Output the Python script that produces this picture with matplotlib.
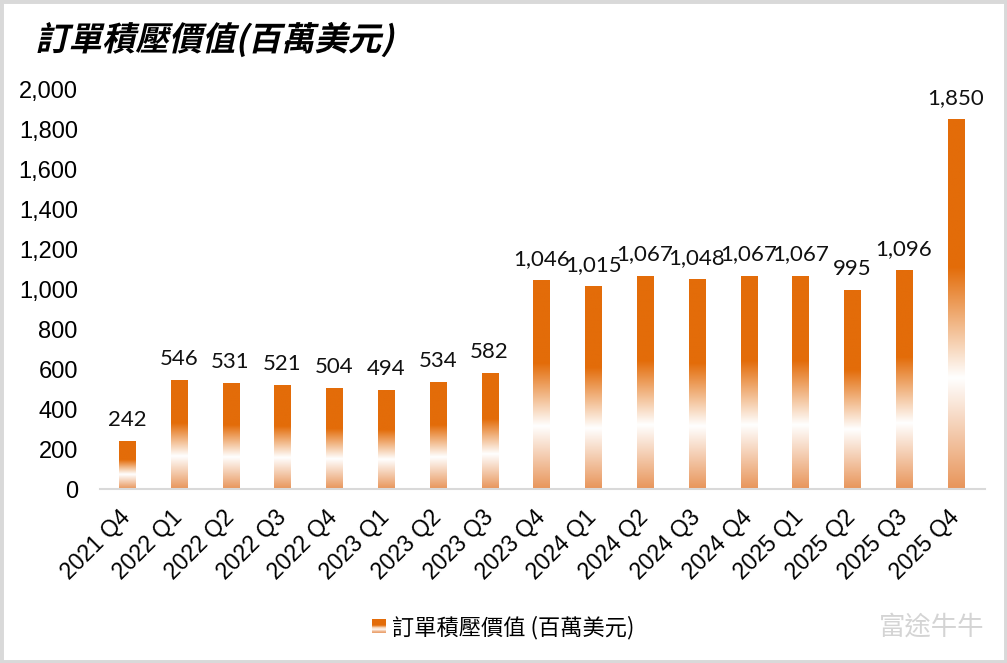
import numpy as np
import matplotlib
matplotlib.use('Agg')
import matplotlib.pyplot as plt
from matplotlib import patheffects
from matplotlib.colors import LinearSegmentedColormap
from matplotlib.legend_handler import HandlerBase
from matplotlib.patches import Rectangle
from matplotlib.transforms import Affine2D


quarters = ['2021 Q4', '2022 Q1', '2022 Q2', '2022 Q3', '2022 Q4',
            '2023 Q1', '2023 Q2', '2023 Q3', '2023 Q4',
            '2024 Q1', '2024 Q2', '2024 Q3', '2024 Q4',
            '2025 Q1', '2025 Q2', '2025 Q3', '2025 Q4']
backlog = [242, 546, 531, 521, 504, 494, 534, 582, 1046,
           1015, 1067, 1048, 1067, 1067, 995, 1096, 1850]
yticks = [0, 200, 400, 600, 800, 1000, 1200, 1400, 1600, 1800, 2000]

title = '訂單積壓價值(百萬美元)'
series_name = '訂單積壓價值 (百萬美元)'

CJK = ['Noto Sans CJK TC', 'DejaVu Sans']
NUM = ['Liberation Sans', 'Noto Sans CJK TC']

# orange at the top, fading to white about a third of the way up, then light orange again
grad_cmap = LinearSegmentedColormap.from_list(
    'bar_grad', [(0.0, '#e8955a'), (0.30, '#ffffff'), (0.60, '#e36c09'), (1.0, '#e36c09')])


class Skew(patheffects.AbstractPathEffect):
    """fake italic for the CJK title"""
    def __init__(self, angle=13):
        super().__init__()
        self.angle = angle

    def draw_path(self, renderer, gc, tpath, affine, rgbFace=None):
        renderer.draw_path(gc, tpath, Affine2D().skew_deg(self.angle, 0) + affine, rgbFace)


class GradientHandler(HandlerBase):
    def create_artists(self, legend, orig_handle, xdescent, ydescent,
                       width, height, fontsize, trans):
        n = 24
        arts = []
        for k in range(n):
            arts.append(Rectangle((-xdescent, -ydescent + k * height / n), width, height / n + 0.3,
                                  facecolor=grad_cmap(k / (n - 1)), lw=0, transform=trans))
        return arts


fig = plt.figure(figsize=(10.07, 6.63), dpi=100)
ax = fig.add_axes([0.0993, 0.2624, 0.8787, 0.6033])

x = np.arange(len(quarters))
bars = ax.bar(x, backlog, width=0.31, color='none', lw=0, zorder=2)
grad = np.linspace(0, 1, 256).reshape(-1, 1)
for b in bars:
    im = ax.imshow(grad, extent=(b.get_x(), b.get_x() + b.get_width(), 0, b.get_height()),
                   aspect='auto', cmap=grad_cmap, origin='lower', interpolation='bilinear', zorder=2)
    im.set_clip_path(b)

for xi, v in zip(x, backlog):
    ax.annotate(f'{v:,}', (xi, v), xytext=(0, 8), textcoords='offset points',
                ha='center', va='bottom', fontsize=16, family=['Lato', 'DejaVu Sans'], color='#111111')

ax.set_xlim(-0.52, len(quarters) - 0.44)
ax.set_ylim(0, 2000)
ax.set_yticks(yticks)
ax.set_yticklabels([f'{t:,}' for t in yticks], family=NUM, fontsize=17)
ax.set_xticks(x)
ax.set_xticklabels(quarters, rotation=45, ha='right', va='center', rotation_mode='anchor',
                   family=NUM, fontsize=16.5)
ax.tick_params(axis='y', length=0, pad=16)
ax.tick_params(axis='x', length=0, pad=18)
for s in ['top', 'right', 'left']:
    ax.spines[s].set_visible(False)
ax.spines['bottom'].set_color('#d9d9d9')
ax.spines['bottom'].set_linewidth(1.5)

fig.text(0.035, 0.94, title, fontsize=24, fontweight='bold', family=CJK, va='center', ha='left',
         path_effects=[Skew(13)])

proxy = Rectangle((0, 0), 1, 1)
fig.legend([proxy], [series_name], handler_map={proxy: GradientHandler()},
           loc='center', bbox_to_anchor=(0.5, 0.054), frameon=False,
           prop={'family': CJK, 'size': 16}, handlelength=0.6, handleheight=0.6,
           handletextpad=0.3)

# watermark
fig.text(0.925, 0.054, '富途牛牛', fontsize=19, family=CJK, color='#d4d4d4', ha='center', va='center')

fig.patches.append(Rectangle((0, 0), 1, 1, transform=fig.transFigure, fill=False,
                             edgecolor='#d9d9d9', lw=5, zorder=10))

fig.savefig('out.png', dpi=100)
